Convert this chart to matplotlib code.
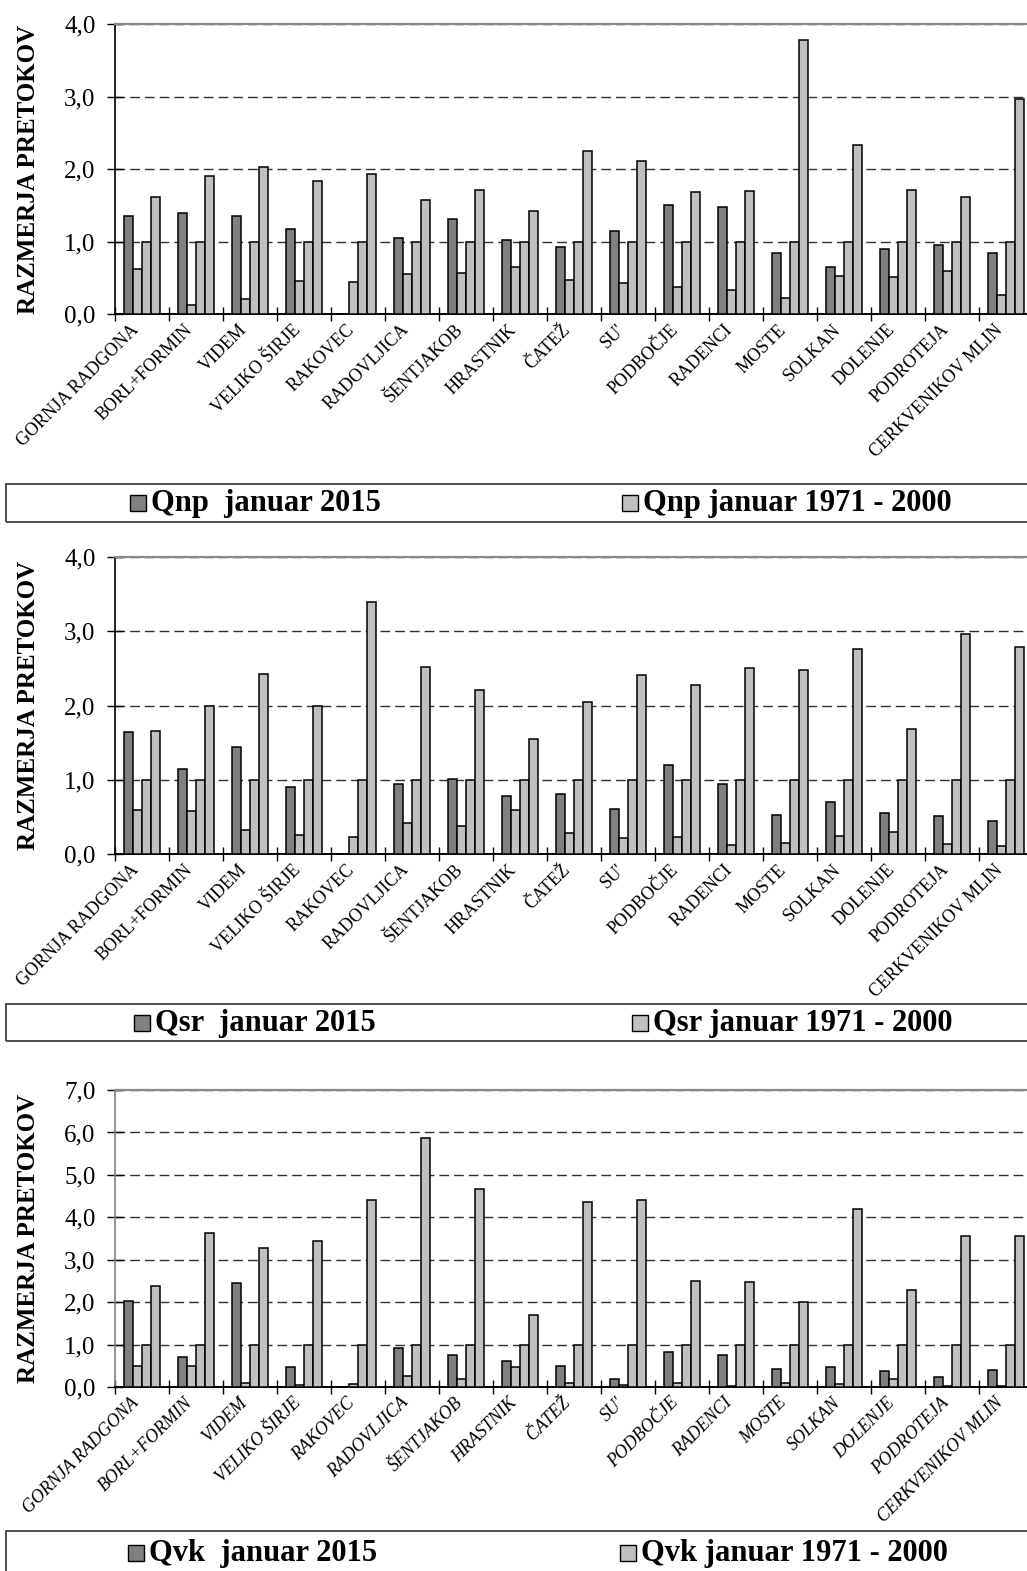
import numpy as np
import matplotlib
matplotlib.use("Agg")
import matplotlib.pyplot as plt
from matplotlib.patches import Rectangle
from matplotlib.transforms import ScaledTranslation
from matplotlib.ticker import FuncFormatter

plt.rcParams['font.family'] = ['Liberation Serif', 'DejaVu Serif']

stations = ["GORNJA RADGONA", "BORL+FORMIN", "VIDEM", "VELIKO ŠIRJE", "RAKOVEC",
            "RADOVLJICA", "ŠENTJAKOB", "HRASTNIK", "ČATEŽ", "SU'", "PODBOČJE",
            "RADENCI", "MOSTE", "SOLKAN", "DOLENJE", "PODROTEJA", "CERKVENIKOV MLIN"]

# Panel 1 : Qnp
qnp_2015 = [1.36, 1.40, 1.35, 1.17, 0.0, 1.05, 1.31, 1.03, 0.93, 1.15, 1.50, 1.48, 0.85, 0.65, 0.90, 0.95, 0.85]
qnp_min = [0.62, 0.13, 0.21, 0.46, 0.45, 0.56, 0.565, 0.65, 0.47, 0.43, 0.37, 0.34, 0.22, 0.53, 0.52, 0.60, 0.26]
qnp_avg = [1.0] * 17
qnp_max = [1.61, 1.91, 2.03, 1.84, 1.93, 1.58, 1.71, 1.43, 2.25, 2.11, 1.69, 1.70, 3.78, 2.33, 1.71, 1.62, 2.97]

# Panel 2 : Qsr
qsr_2015 = [1.65, 1.15, 1.44, 0.90, 0.0, 0.95, 1.01, 0.79, 0.815, 0.61, 1.20, 0.94, 0.53, 0.70, 0.555, 0.52, 0.45]
qsr_min = [0.60, 0.58, 0.33, 0.26, 0.23, 0.42, 0.385, 0.59, 0.28, 0.22, 0.23, 0.125, 0.15, 0.25, 0.305, 0.14, 0.11]
qsr_avg = [1.0] * 17
qsr_max = [1.66, 2.00, 2.43, 1.99, 3.39, 2.52, 2.21, 1.55, 2.05, 2.41, 2.28, 2.51, 2.48, 2.755, 1.69, 2.96, 2.78]

# Panel 3 : Qvk
qvk_2015 = [2.03, 0.72, 2.46, 0.48, 0.0, 0.93, 0.76, 0.63, 0.49, 0.20, 0.83, 0.76, 0.44, 0.47, 0.385, 0.24, 0.40]
qvk_min = [0.51, 0.51, 0.09, 0.06, 0.07, 0.27, 0.20, 0.47, 0.10, 0.05, 0.09, 0.02, 0.11, 0.08, 0.20, 0.02, 0.02]
qvk_avg = [1.0] * 17
qvk_max = [2.39, 3.63, 3.28, 3.44, 4.40, 5.88, 4.68, 1.71, 4.36, 4.40, 2.51, 2.48, 2.00, 4.19, 2.28, 3.56, 3.56]

ylabel = "RAZMERJA PRETOKOV"
legend_labels = [("Qnp  januar 2015", "Qnp januar 1971 - 2000"),
                 ("Qsr  januar 2015", "Qsr januar 1971 - 2000"),
                 ("Qvk  januar 2015", "Qvk januar 1971 - 2000")]

DARK = "#808080"
LIGHT = "#C0C0C0"
W, H = 1027, 1571

fig = plt.figure(figsize=(W / 100, H / 100), dpi=100)


def fy(p):
    return 1 - p / H


def panel(y_top, y_bot, ymax, data, italic, left_col, leg, leg_box, leg_px):
    ax = fig.add_axes([115 / W, fy(y_bot), 918 / W, (y_bot - y_top) / H])
    n = len(stations)
    x = np.arange(n) + 0.5
    bw = 0.168
    cols = [DARK, LIGHT, LIGHT, LIGHT]
    for j, (vals, c) in enumerate(zip(data, cols)):
        ax.bar(x + (j - 1.5) * bw, vals, width=bw, color=c, edgecolor="black",
               linewidth=1.1, zorder=3)
    ax.set_xlim(0, n)
    ax.set_ylim(0, ymax)
    ax.set_yticks(np.arange(0, ymax + 0.01, 1.0))
    ax.yaxis.set_major_formatter(FuncFormatter(lambda v, p: f"{v:.1f}".replace('.', ',')))
    ax.yaxis.grid(True, linestyle=(0, (7, 3.6)), color="#303030", linewidth=1.0)
    ax.set_axisbelow(True)
    ax.spines["right"].set_visible(False)
    ax.spines["top"].set_color("#8a8a8a")
    ax.spines["top"].set_linewidth(1.6)
    ax.spines["left"].set_color(left_col)
    ax.spines["left"].set_linewidth(1.2)
    ax.spines["bottom"].set_linewidth(1.4)
    ax.tick_params(axis="y", direction="inout", length=12, width=1.0, pad=8,
                   labelsize=18, colors="black")
    ax.set_xticks(np.arange(0, n + 1))
    ax.set_xticklabels([])
    ax.tick_params(axis="x", which="major", direction="inout", length=10, width=1.0)
    ax.set_xticks(x, minor=True)
    ax.set_xticklabels(stations, minor=True, rotation=45, ha="right", va="top",
                       rotation_mode="anchor", fontsize=13,
                       fontstyle="italic" if italic else "normal")
    ax.tick_params(axis="x", which="minor", length=0, pad=5)
    off = ScaledTranslation(-12 / 100, 0, fig.dpi_scale_trans)
    for lab in ax.get_xticklabels(minor=True):
        lab.set_transform(lab.get_transform() + off)
    ax.set_ylabel(ylabel, fontsize=18, fontweight="bold")
    ax.yaxis.set_label_coords(-0.082, 0.5)

    # legend box
    bt, bb = leg_box
    fig.patches.append(Rectangle((6 / W, fy(bb)), 1.1, (bb - bt) / H,
                                 transform=fig.transFigure, fill=False,
                                 edgecolor="#404040", linewidth=1.3))
    yc = (bt + bb) / 2
    for (px, lab, c) in zip(leg_px, leg, [DARK, LIGHT]):
        fig.patches.append(Rectangle((px / W, fy(yc + 8)), 16 / W, 16 / H,
                                     transform=fig.transFigure, facecolor=c,
                                     edgecolor="black", linewidth=1.0))
        fig.text((px + 21) / W, fy(yc + 1), lab, fontsize=22, fontweight="bold",
                 ha="left", va="center")
    return ax


panel(24, 314.3, 4.0, [qnp_2015, qnp_min, qnp_avg, qnp_max], False, "black",
      legend_labels[0], (484, 522), (130, 622))
panel(556.7, 854.3, 4.0, [qsr_2015, qsr_min, qsr_avg, qsr_max], False, "black",
      legend_labels[1], (1004, 1041), (134, 632))
panel(1090, 1387.3, 7.0, [qvk_2015, qvk_min, qvk_avg, qvk_max], True, "#808080",
      legend_labels[2], (1531, 1575), (128, 620))

fig.savefig("out.png", dpi=100)
